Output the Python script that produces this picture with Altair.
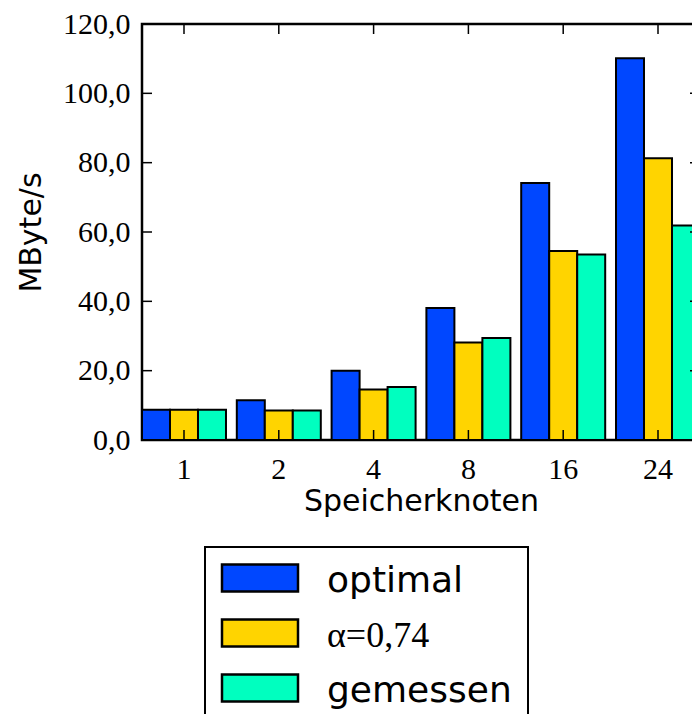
import altair as alt
import pandas as pd

nodes = ["1", "2", "4", "8", "16", "24"]
series = ["optimal", "α=0,74", "gemessen"]
optimal = [8.7, 11.5, 20.0, 38.1, 74.1, 110.1]
alpha = [8.7, 8.5, 14.6, 28.1, 54.5, 81.3]
gemessen = [8.7, 8.5, 15.3, 29.4, 53.5, 61.9]
colors = ["#0047ff", "#ffd400", "#00ffbf"]
y_ticks = [0, 20, 40, 60, 80, 100, 120]

rows = []
for s, vals in zip(series, [optimal, alpha, gemessen]):
    for n, v in zip(nodes, vals):
        rows.append({"node": n, "series": s, "value": v})
df = pd.DataFrame(rows)
ticks_df = pd.DataFrame({"v": y_ticks})
nodes_df = pd.DataFrame({"node": nodes})

W, H = 558, 416
yscale = alt.Scale(domain=[0, 120], nice=False, zero=True)
xscale = alt.Scale(paddingInner=0.114, paddingOuter=0)

bars = alt.Chart(df).mark_bar(stroke="black", strokeWidth=2, opacity=1).encode(
    x=alt.X("node:N", sort=nodes, scale=xscale,
            axis=alt.Axis(title="Speicherknoten", labelAngle=0)),
    xOffset=alt.XOffset("series:N", sort=series,
                        scale=alt.Scale(paddingInner=0, paddingOuter=0)),
    y=alt.Y("value:Q", scale=yscale,
            axis=alt.Axis(title="MByte/s", values=y_ticks,
                          labelExpr="replace(format(datum.value, '.1f'), '.', ',')")),
    color=alt.Color("series:N", sort=series,
                    scale=alt.Scale(domain=series, range=colors),
                    title=None,
                    legend=alt.Legend(
                        orient="none", legendX=63, legendY=523,
                        symbolType="M-2.815,-1.222L2.815,-1.222L2.815,0.778L-2.815,0.778Z",
                        symbolSize=729, symbolStrokeColor="black",
                        symbolStrokeWidth=2.5, symbolOpacity=1, symbolOffset=21,
                        labelFont={"expr": "datum.label == 'α=0,74' ? 'Liberation Serif' : 'DejaVu Sans'"},
                        labelFontSize=36, labelOffset=49, labelLimit=400,
                        rowPadding=15, padding=16,
                        strokeColor="black", fillColor="white")),
)

tick_style = dict(color="black", strokeWidth=1.5)
yt_left = alt.Chart(ticks_df).mark_rule(**tick_style).encode(
    y=alt.Y("v:Q", scale=yscale), x=alt.value(0), x2=alt.value(10))
yt_right = alt.Chart(ticks_df).mark_rule(**tick_style).encode(
    y=alt.Y("v:Q", scale=yscale), x=alt.value(W), x2=alt.value(W - 10))
xt_bottom = alt.Chart(nodes_df).mark_rule(**tick_style).encode(
    x=alt.X("node:N", sort=nodes, bandPosition=0.5), y=alt.value(H), y2=alt.value(H - 10))
xt_top = alt.Chart(nodes_df).mark_rule(**tick_style).encode(
    x=alt.X("node:N", sort=nodes, bandPosition=0.5), y=alt.value(0), y2=alt.value(10))

chart = alt.layer(bars, yt_left, yt_right, xt_bottom, xt_top).properties(
    width=W, height=H,
    autosize=alt.AutoSizeParams(type="none"),
    padding={"left": 134, "top": 16, "right": -8, "bottom": 274},
).configure_view(
    stroke="black", strokeWidth=2.5
).configure_axis(
    domain=False, ticks=False, grid=False,
    labelFont="Liberation Serif", labelFontSize=30, labelColor="black",
    titleFont="DejaVu Sans", titleFontSize=30, titleFontWeight="normal",
    titleColor="black",
).configure_axisY(
    labelPadding=12, titlePadding=16,
).configure_axisX(
    labelPadding=14, titlePadding=2,
).configure_legend(
    strokeWidth=2, cornerRadius=0,
)

chart.save("out.html", embed_options={"renderer": "svg", "actions": False})
